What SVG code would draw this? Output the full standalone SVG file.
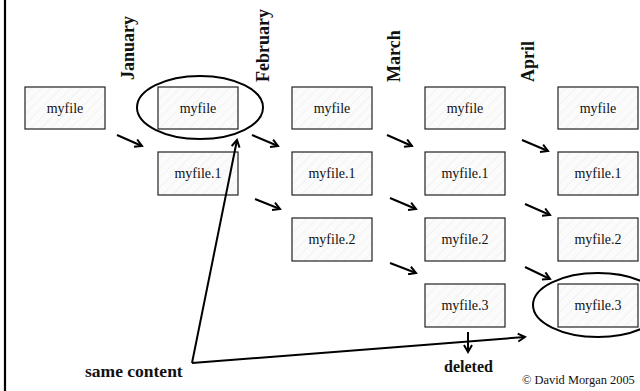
<svg xmlns="http://www.w3.org/2000/svg" width="640" height="391" viewBox="0 0 640 391">
<style>
.box{fill:url(#hatch);stroke:#222;stroke-width:1.2}
.bt{font-family:"Liberation Serif",serif;font-size:14px;text-anchor:middle;fill:#111}
.mon{font-family:"Liberation Serif",serif;font-size:18px;font-weight:bold;fill:#111}
.lbl{font-family:"Liberation Serif",serif;font-weight:bold;fill:#111}
.arr{stroke:#000;stroke-width:2;fill:none;marker-end:url(#ah)}
.ln{stroke:#000;stroke-width:1.8;fill:none}
.ell{stroke:#000;stroke-width:2;fill:none}
</style>
<defs>
<pattern id="hatch" width="7" height="7" patternUnits="userSpaceOnUse" patternTransform="rotate(-45)">
<rect width="7" height="7" fill="#fbfbfb"/>
<line x1="0" y1="0" x2="7" y2="0" stroke="#ececec" stroke-width="1.2"/>
</pattern>
<marker id="ah" markerWidth="10" markerHeight="10" refX="8" refY="5" orient="auto" markerUnits="userSpaceOnUse">
<path d="M1,1 L8,5 L1,9" fill="none" stroke="#000" stroke-width="2"/>
</marker>
</defs>
<rect x="0" y="0" width="640" height="391" fill="#fff"/>
<line x1="5" y1="0" x2="5" y2="391" stroke="#000" stroke-width="2.2"/>

<g id="months">
<text class="mon" transform="translate(134,80) rotate(-90)">January</text>
<text class="mon" transform="translate(269,82) rotate(-90)">February</text>
<text class="mon" transform="translate(400,82) rotate(-90)">March</text>
<text class="mon" transform="translate(534,82) rotate(-90)">April</text>
</g>

<g id="n-c1r1"><rect class="box" x="25" y="87" width="80" height="42"/><text class="bt" x="65" y="113">myfile</text></g>
<g id="n-c2r1"><rect class="box" x="158" y="87" width="80" height="42"/><text class="bt" x="198" y="113">myfile</text></g>
<g id="n-c2r2"><rect class="box" x="158" y="152" width="80" height="43"/><text class="bt" x="198" y="178">myfile.1</text></g>
<g id="n-c3r1"><rect class="box" x="292" y="87" width="80" height="42"/><text class="bt" x="332" y="113">myfile</text></g>
<g id="n-c3r2"><rect class="box" x="292" y="152" width="80" height="43"/><text class="bt" x="332" y="178">myfile.1</text></g>
<g id="n-c3r3"><rect class="box" x="292" y="218" width="80" height="43"/><text class="bt" x="332" y="244">myfile.2</text></g>
<g id="n-c4r1"><rect class="box" x="425" y="87" width="80" height="42"/><text class="bt" x="465" y="113">myfile</text></g>
<g id="n-c4r2"><rect class="box" x="425" y="152" width="80" height="43"/><text class="bt" x="465" y="178">myfile.1</text></g>
<g id="n-c4r3"><rect class="box" x="425" y="218" width="80" height="43"/><text class="bt" x="465" y="244">myfile.2</text></g>
<g id="n-c4r4"><rect class="box" x="425" y="284" width="80" height="43"/><text class="bt" x="465" y="310">myfile.3</text></g>
<g id="n-c5r1"><rect class="box" x="558" y="87" width="80" height="42"/><text class="bt" x="598" y="113">myfile</text></g>
<g id="n-c5r2"><rect class="box" x="558" y="152" width="80" height="43"/><text class="bt" x="598" y="178">myfile.1</text></g>
<g id="n-c5r3"><rect class="box" x="558" y="218" width="80" height="43"/><text class="bt" x="598" y="244">myfile.2</text></g>
<g id="n-c5r4"><rect class="box" x="558" y="284" width="80" height="43"/><text class="bt" x="598" y="310">myfile.3</text></g>

<g id="highlights">
<ellipse class="ell" cx="200" cy="107.5" rx="63" ry="31.5"/>
<ellipse class="ell" cx="598" cy="305" rx="65" ry="32"/>
</g>

<g id="connectors">
<line class="arr" x1="117" y1="135" x2="142" y2="146"/>
<line class="arr" x1="252" y1="135" x2="278" y2="146"/>
<line class="arr" x1="387" y1="135" x2="412" y2="146"/>
<line class="arr" x1="522" y1="140" x2="548" y2="151"/>
<line class="arr" x1="255" y1="199" x2="280" y2="209"/>
<line class="arr" x1="390" y1="198" x2="416" y2="209"/>
<line class="arr" x1="525" y1="204" x2="550" y2="215"/>
<line class="arr" x1="390" y1="263" x2="416" y2="273"/>
<line class="arr" x1="525" y1="267" x2="550" y2="279"/>
<line class="arr" x1="468" y1="332" x2="468" y2="352"/>
<line class="arr" x1="192" y1="363" x2="237" y2="140"/>
<line class="arr" x1="192" y1="363" x2="525" y2="337"/>
</g>

<g id="labels">
<text class="lbl" x="85" y="377" font-size="17.5">same content</text>
<text class="lbl" x="444" y="372" font-size="16">deleted</text>
<text x="522" y="384" font-family="Liberation Serif,serif" font-size="12.4" fill="#111">© David Morgan 2005</text>
</g>
</svg>
